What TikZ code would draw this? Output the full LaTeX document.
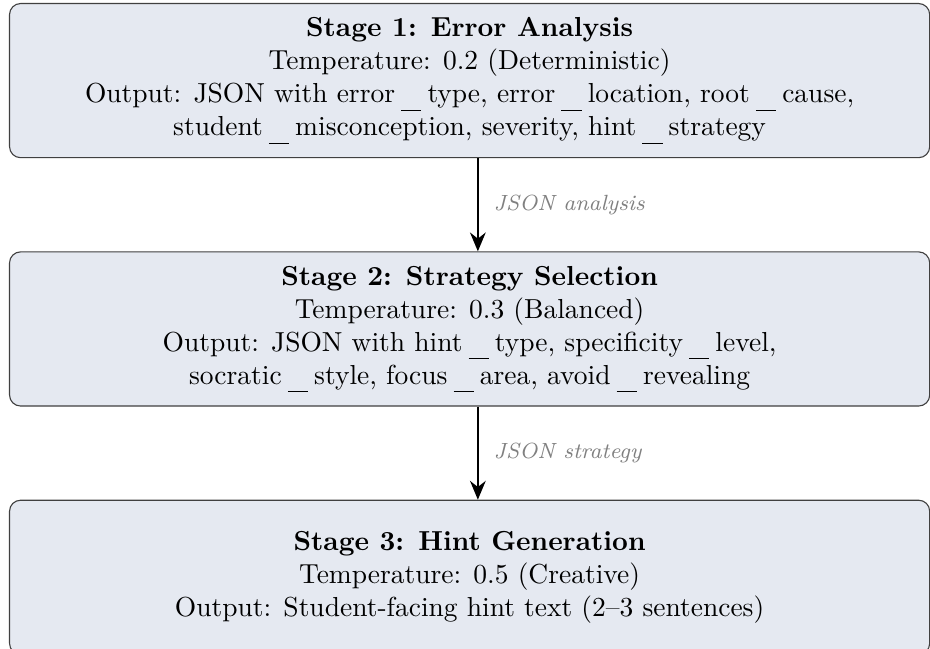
\documentclass[tikz,border=0pt]{standalone}
\usepackage{tikz}
\usepackage{xcolor}
\usetikzlibrary{positioning,arrows.meta}

\definecolor{stagefill}{RGB}{229,233,241}
\newcommand{\uscore}{\kern2.2pt\rule[-2.9pt]{7.4pt}{0.4pt}\kern2.2pt}

\begin{document}
\begin{tikzpicture}[
    stagebox/.style={rectangle, rounded corners=4pt, draw=black!75, fill=stagefill,
      minimum width=11.76cm, minimum height=1.97cm, align=center, inner sep=2pt},
    flowarrow/.style={-{Stealth[length=2.4mm,width=2mm]}, thick},
    flowlabel/.style={font=\footnotesize\itshape, text=gray, right, xshift=2pt},
    node distance=1.19cm
  ]
        \useasboundingbox (0,0) rectangle (11.886,-8.282);

        % Stage 1
        \node[stagebox, anchor=north west] (stage1) at (0.115,-0.038) {%
          \textbf{Stage 1: Error Analysis}\\
          Temperature: 0.2 (Deterministic)\\
          Output: JSON with error\uscore type, error\uscore location, root\uscore cause,\\
          student\uscore misconception, severity, hint\uscore strategy};

        % Stage 2
        \node[stagebox, below=of stage1] (stage2) {%
          \textbf{Stage 2: Strategy Selection}\\
          Temperature: 0.3 (Balanced)\\
          Output: JSON with hint\uscore type, specificity\uscore level,\\
          socratic\uscore style, focus\uscore area, avoid\uscore revealing};

        % Stage 3
        \node[stagebox, below=of stage2] (stage3) {%
          \textbf{Stage 3: Hint Generation}\\
          Temperature: 0.5 (Creative)\\
          Output: Student-facing hint text (2--3 sentences)};

        % connectors
        \draw[flowarrow] ([xshift=3pt]stage1.south) -- node[flowlabel] {JSON analysis} ([xshift=3pt]stage2.north);
        \draw[flowarrow] ([xshift=3pt]stage2.south) -- node[flowlabel] {JSON strategy} ([xshift=3pt]stage3.north);
    \end{tikzpicture}
\end{document}
